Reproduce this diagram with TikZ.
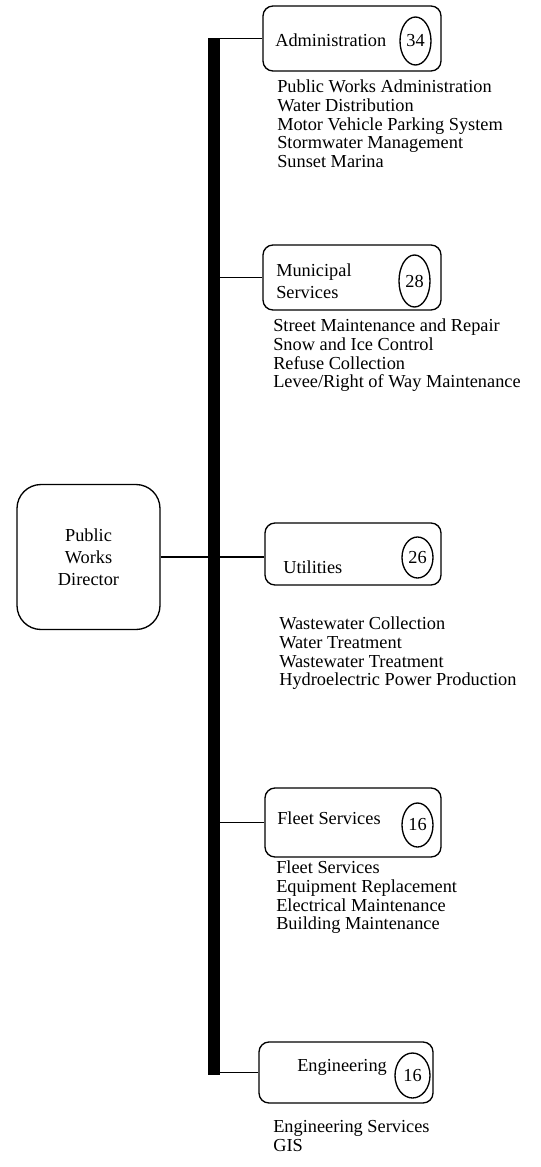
\documentclass[tikz,border=0pt]{standalone}
\usepackage{fontspec}
\setmainfont{Liberation Serif}
\usetikzlibrary{shapes.geometric}
\begin{document}
\begin{tikzpicture}[x=0.75pt,y=-0.75pt,
  font=\fontsize{13.75}{14}\selectfont,
  unitbox/.style={draw,line width=1pt,rounded corners=7.5pt},
  count/.style={draw,ellipse,line width=1pt,inner sep=0pt},
  duties/.style={anchor=north west,align=left,inner sep=0pt},
  link/.style={line width=0.9pt}]
\useasboundingbox (0,0) rectangle (541,1167);

\node[unitbox,rounded corners=18pt,minimum width=107.25pt,minimum height=108.75pt,
  align=center,font=\fontsize{13.75}{16.5}\selectfont] (director) at (88.5,557) {Public\\Works\\Director};

\node[unitbox,minimum width=133.5pt,minimum height=48.75pt] (admin) at (352,38.5) {};
\node[unitbox,minimum width=133.5pt,minimum height=48.75pt] (munic) at (352,277.5) {};
\node[unitbox,minimum width=132pt,minimum height=46.5pt] (util) at (353,554) {};
\node[unitbox,minimum width=132pt,minimum height=51.75pt] (fleet) at (353,822.5) {};
\node[unitbox,minimum width=130.5pt,minimum height=45.75pt] (eng) at (346,1072.5) {};

\node[anchor=west,inner sep=0pt] (admintitle) at (275,40) {Administration};
\node[anchor=west,inner sep=0pt,align=left,font=\fontsize{13.75}{16.5}\selectfont] (munictitle) at (276,281) {Municipal\\Services};
\node[anchor=west,inner sep=0pt] (utiltitle) at (283,567) {Utilities};
\node[anchor=west,inner sep=0pt] (fleettitle) at (277,818) {Fleet Services};
\node[anchor=west,inner sep=0pt] (engtitle) at (297,1067) {Engineering};

\node[count,minimum width=23.25pt,minimum height=36pt] (admincount) at (415.5,41) {34};
\node[count,minimum width=23.25pt,minimum height=39pt] (municcount) at (414.5,281) {28};
\node[count,minimum width=23.25pt,minimum height=30.75pt] (utilcount) at (417.5,557.5) {26};
\node[count,minimum width=23.25pt,minimum height=33pt] (fleetcount) at (417.5,825) {16};
\node[count,minimum width=26.25pt,minimum height=33.75pt] (engcount) at (412.5,1075.5) {16};

\node[duties] (adminlist) at (277,80) {Public Works Administration\\Water Distribution\\Motor Vehicle Parking System\\Stormwater Management\\Sunset Marina};
\node[duties] (municlist) at (273,319) {Street Maintenance and Repair\\Snow and Ice Control\\Refuse Collection\\Levee/Right of Way Maintenance};
\node[duties] (utillist) at (279,617) {Wastewater Collection\\Water Treatment\\Wastewater Treatment\\Hydroelectric Power Production};
\node[duties] (fleetlist) at (276,861) {Fleet Services\\Equipment Replacement\\Electrical Maintenance\\Building Maintenance};
\node[duties] (englist) at (273,1120) {Engineering Services\\GIS};

\coordinate (bartop) at (214,38);
\coordinate (barbot) at (214,1075);
\draw[line width=9pt] (bartop) -- (barbot);

\draw[link] (director.east) -- (director.east -| util.west);
\draw[link] (admin.west) -- (admin.west -| bartop);
\draw[link] (munic.west) -- (munic.west -| bartop);
\draw[link] (fleet.west) -- (fleet.west -| bartop);
\draw[link] (eng.west) -- (eng.west -| bartop);
\end{tikzpicture}
\end{document}
